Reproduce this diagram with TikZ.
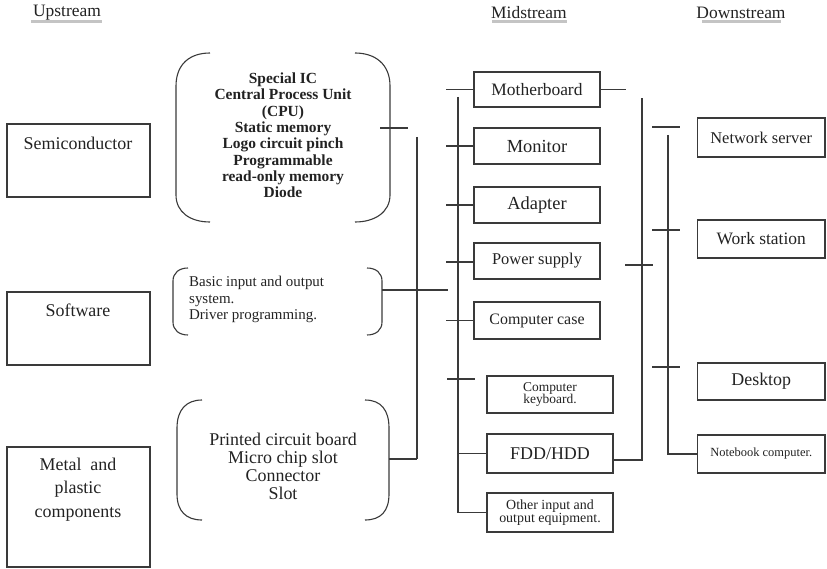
\documentclass[tikz,border=0pt]{standalone}
\usepackage{fontspec}
\setmainfont{Liberation Serif}
\usetikzlibrary{calc}
\definecolor{linec}{HTML}{3A3A3A}
\definecolor{txt}{HTML}{222222}
\definecolor{uline}{HTML}{C4C4C4}
\newcommand\fs[2]{\fontsize{#1}{#2}\selectfont}
\begin{document}
\begin{tikzpicture}[x=1bp,y=-1bp,
  ln/.style={draw=linec, line width=1.1bp},
  box/.style={draw=linec, line width=1.2bp, inner sep=0pt, text=txt, align=center},
  plain/.style={text=txt, inner sep=0pt, align=center},
  hd/.style={text=txt, inner sep=0pt, font=\fs{17.5}{20}},
]
\useasboundingbox (0,0) rectangle (827,569);

% headings
\fill[uline] (31,20) rectangle (102,23);
\node[hd] (hup) at (67,13) {Upstream};
\fill[uline] (492,20) rectangle (567,23);
\node[hd] (hmid) at (529,13) {Midstream};
\fill[uline] (702,20) rectangle (781,23);
\node[hd] (hdown) at (741,13) {Downstream};

% upstream boxes
\node[box, minimum width=143bp, minimum height=73bp] (semi) at (78.5,160.5) {};
\node[plain, font=\fs{18}{20}] (semit) at (78,143) {Semiconductor};
\node[box, minimum width=143bp, minimum height=73bp] (soft) at (78.5,328.5) {};
\node[plain, font=\fs{18}{20}] (softt) at (78,310) {Software};
\node[box, minimum width=143bp, minimum height=120bp] (metal) at (78.5,507) {};
\node[plain, font=\fs{18}{23.5}] (metalt) at (78,489.5) {Metal\enspace and\\plastic\\components};

% brace groups
\draw[ln] (210,53) .. controls (190,53) and (176,64) .. (176,86) -- (176,195)
  .. controls (176,212) and (190,222) .. (210,222);
\draw[ln] (355,53) .. controls (375,53) and (390,64) .. (390,86) -- (390,195)
  .. controls (390,212) and (375,222) .. (355,222);
\node[plain, font=\bfseries\fs{15.5}{16.4}] (ics) at (283,135.5)
  {Special IC\\Central Process Unit\\(CPU)\\Static memory\\Logo circuit pinch\\Programmable\\read-only memory\\Diode};
\coordinate (b1e) at (380,128);

\draw[ln] (188,268) .. controls (179,268) and (173,273) .. (173,281) -- (173,322)
  .. controls (173,330) and (179,335) .. (188,335);
\draw[ln] (367,268) .. controls (376,268) and (382,273) .. (382,281) -- (382,322)
  .. controls (382,330) and (376,335) .. (367,335);
\node[plain, align=left, anchor=west, font=\fs{15}{16.5}] (sw) at (189,299.5)
  {Basic input and output\\system.\\Driver programming.};
\coordinate (b2e) at (382,290);

\draw[ln] (202,400) .. controls (186,400) and (177,410) .. (177,428) -- (177,494)
  .. controls (177,511) and (186,520) .. (202,520);
\draw[ln] (365,400) .. controls (381,400) and (389,410) .. (389,428) -- (389,494)
  .. controls (389,511) and (381,520) .. (365,520);
\node[plain, font=\fs{18}{18}] (pcb) at (283,466)
  {Printed circuit board\\Micro chip slot\\Connector\\Slot};
\coordinate (b3e) at (389,459);

% upstream to midstream lines
\coordinate (v1top) at (417,137);
\coordinate (v1bot) at (417,459);
\draw[ln] (b1e) -- ++(28,0);
\draw[ln] (v1top) -- (v1bot);
\draw[ln] (b2e) -- (448,290);
\draw[ln] (b3e) -- (v1bot);

% midstream boxes
\node[box, minimum width=126bp, minimum height=35bp, font=\fs{17.5}{20}] (mother) at (537,89.5) {Motherboard};
\node[box, minimum width=126bp, minimum height=36bp, font=\fs{18.5}{20}] (monitor) at (537,146) {Monitor};
\node[box, minimum width=126bp, minimum height=36bp, font=\fs{18.5}{20}] (adapter) at (537,205) {Adapter};
\node[box, minimum width=126bp, minimum height=36bp, font=\fs{16.5}{20}] (power) at (537,261) {Power supply};
\node[box, minimum width=126bp, minimum height=37bp, font=\fs{16}{20}] (case) at (537,320.5) {Computer case};
\node[box, minimum width=126bp, minimum height=37bp, font=\fs{13.5}{12.5}] (kbd) at (550,394.5) {Computer\\keyboard.};
\node[box, minimum width=126bp, minimum height=39bp, font=\fs{18}{20}] (fdd) at (550,453.5) {FDD/HDD};
\node[box, minimum width=126bp, minimum height=39bp, font=\fs{14}{13}] (other) at (550,512.5) {Other input and\\output equipment.};

% midstream bus
\coordinate (v2top) at (458,97);
\draw[ln] (v2top) |- (other.west);
\draw[ln] (mother.west) -- ++(-27,0);
\draw[ln] (mother.east) -- ++(25,0);
\draw[ln] (monitor.west) -- ++(-27,0);
\draw[ln] (adapter.west) -- ++(-27,0);
\draw[ln] ($(power.west)+(0,1)$) -- ++(-27,0);
\draw[ln] (case.west) -- ++(-27,0);
\coordinate (kbtick) at (447,379);
\draw[ln] (kbtick) -- ++(28,0);
\draw[ln] (fdd.west) -- ++(-29,0);
\coordinate (v4top) at (642,98);
\draw[ln] ($(fdd.east)+(0,6.5)$) -| (v4top);
\coordinate (pwtick) at (625,265);
\draw[ln] (pwtick) -- ++(28,0);

% downstream boxes
\node[box, minimum width=127.5bp, minimum height=39bp, font=\fs{16.5}{20}] (net) at (761.25,137.5) {Network server};
\node[box, minimum width=127.5bp, minimum height=38bp, font=\fs{17.5}{20}] (work) at (761.25,239) {Work station};
\node[box, minimum width=127.5bp, minimum height=37bp, font=\fs{18}{20}] (desk) at (761.25,381.5) {Desktop};
\node[box, minimum width=127.5bp, minimum height=38bp, font=\fs{12.5}{14}] (note) at (761.25,454) {Notebook computer.};

\coordinate (v3top) at (668,135);
\draw[ln] (v3top) |- (note.west);
\coordinate (t1) at (652,127);
\coordinate (t2) at (652,230);
\coordinate (t3) at (652,367);
\draw[ln] (t1) -- ++(28,0);
\draw[ln] (t2) -- ++(28,0);
\draw[ln] (t3) -- ++(28,0);
\end{tikzpicture}
\end{document}
